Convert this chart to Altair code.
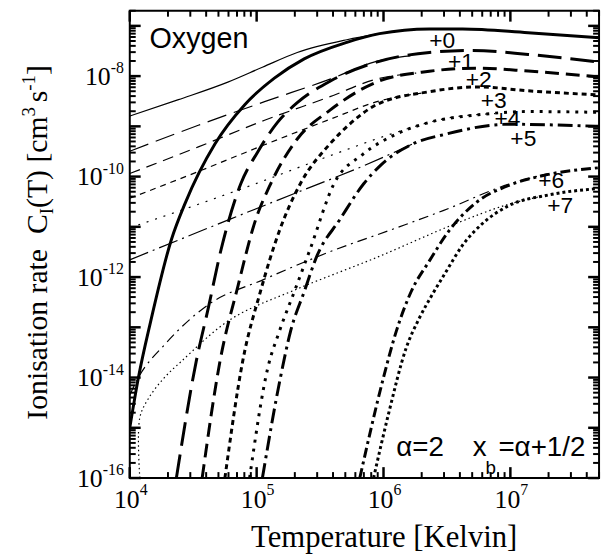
import math
import altair as alt
import pandas as pd

W, H = 474, 472

# ---------------- data ----------------
ions = ["+0", "+1", "+2", "+3", "+4", "+5", "+6", "+7"]

# thick curves (Maxwellian)
T_m0 = [1.0e4, 1.17e4, 1.46e4, 2.13e4, 2.74e4, 4.7e4, 8.06e4, 1.38e5, 2.37e5, 5.14e5, 9.3e5, 2.3e6, 4.2e6, 1.38e7, 5.0e7]
C_m0 = [1.0e-15, 1.0e-14, 1.3e-13, 5.6e-12, 3.0e-11, 4.5e-10, 2.7e-9, 9.1e-9, 2.2e-8, 4.7e-8, 7.0e-8, 8.7e-8, 8.7e-8, 7.3e-8, 5.8e-8]

T_m1 = [2.33e4, 3.34e4, 4.14e4, 5.24e4, 7.5e4, 1.02e5, 1.46e5, 2.09e5, 3.79e5, 8.8e5, 2.3e6, 5.0e6, 1.38e7, 5.0e7]
C_m1 = [1.0e-16, 2.1e-14, 2.3e-13, 3.5e-12, 7.2e-11, 3.1e-10, 1.2e-9, 2.95e-9, 7.9e-9, 1.9e-8, 2.95e-8, 3.24e-8, 2.7e-8, 1.9e-8]

T_m2 = [3.72e4, 5.14e4, 7.1e4, 9.64e4, 1.29e5, 2.09e5, 3.79e5, 8.8e5, 2.3e6, 5.33e6, 1.38e7, 5.0e7]
C_m2 = [1.0e-16, 2.1e-14, 6.4e-13, 1.2e-11, 7.2e-11, 5.6e-10, 2.1e-9, 7.6e-9, 1.25e-8, 1.44e-8, 1.26e-8, 9.6e-9]

T_m3 = [5.62e4, 7.76e4, 1.07e5, 1.51e5, 2.21e5, 3.79e5, 5.4e5, 8.8e5, 2.3e6, 5.6e6, 1.38e7, 5.0e7]
C_m3 = [1.0e-16, 2.1e-14, 5.1e-13, 8.3e-12, 7.2e-11, 4.5e-10, 1.1e-9, 2.7e-9, 4.9e-9, 6.1e-9, 5.1e-9, 4.2e-9]

T_m4 = [8.8e4, 1.22e5, 1.51e5, 1.98e5, 2.63e5, 4.07e5, 6.9e5, 1.26e6, 2.3e6, 5.6e6, 1.38e7, 5.0e7]
C_m4 = [1.0e-16, 1.5e-14, 8.3e-14, 5.1e-13, 3.5e-12, 7.2e-11, 2.8e-10, 7.0e-10, 1.2e-9, 1.7e-9, 1.97e-9, 1.9e-9]

T_m5 = [1.11e5, 1.54e5, 1.85e5, 2.37e5, 3.0e5, 4.53e5, 6.98e5, 9.3e5, 1.71e6, 3.1e6, 9.6e6, 5.0e7]
C_m5 = [1.0e-16, 1.0e-14, 8.3e-14, 5.1e-13, 2.7e-12, 1.4e-11, 7.2e-11, 1.6e-10, 4.5e-10, 7.0e-10, 1.1e-9, 1.0e-9]

T_m6 = [6.5e5, 1.0e6, 1.26e6, 1.65e6, 2.3e6, 3.28e6, 5.33e6, 9.6e6, 1.78e7, 5.0e7]
C_m6 = [1.0e-16, 1.0e-14, 8.3e-14, 5.1e-13, 2.1e-12, 8.3e-12, 3.0e-11, 6.6e-11, 1.04e-10, 1.5e-10]

T_m7 = [8.35e5, 1.09e6, 1.51e6, 1.91e6, 2.45e6, 3.1e6, 4.2e6, 6.0e6, 9.6e6, 1.99e7, 5.0e7]
C_m7 = [1.0e-16, 1.8e-15, 3.9e-14, 1.5e-13, 4.7e-13, 1.26e-12, 4.3e-12, 1.15e-11, 2.6e-11, 4.3e-11, 5.8e-11]

# thin curves (non-Maxwellian)
T_k0 = [1.0e4, 2.42e4, 5.93e4, 1.11e5, 2.09e5, 5.14e5, 9.3e5]
C_k0 = [1.6e-9, 3.4e-9, 7.6e-9, 1.5e-8, 2.95e-8, 5.3e-8, 7.0e-8]

T_k1 = [1.0e4, 3.47e4, 1.155e5, 3.79e5, 8.8e5, 1.81e6]
C_k1 = [3.2e-10, 1.05e-9, 3.1e-9, 8.7e-9, 1.97e-8, 2.6e-8]

T_k2 = [1.0e4, 3.47e4, 1.155e5, 3.79e5, 8.8e5, 1.81e6]
C_k2 = [1.15e-10, 3.9e-10, 1.32e-9, 3.9e-9, 8.7e-9, 1.15e-8]

T_k3 = [1.0e4, 3.47e4, 1.155e5, 3.79e5, 9.3e5, 2.17e6]
C_k3 = [3.7e-11, 1.26e-10, 4.3e-10, 1.38e-9, 3.2e-9, 4.7e-9]

T_k4 = [1.0e4, 8.5e4, 3.79e5, 1.26e6, 3.1e6, 7.6e6]
C_k4 = [9.5e-12, 6.3e-11, 2.6e-10, 7.6e-10, 1.44e-9, 1.8e-9]

T_k5 = [1.0e4, 6.26e4, 2.09e5, 6.98e5, 1.71e6]
C_k5 = [2.2e-12, 1.44e-11, 4.85e-11, 1.64e-10, 4.5e-10]

T_k6 = [1.0e4, 1.17e4, 1.91e4, 4.14e4, 1.155e5, 3.79e5, 1.26e6, 2.95e6, 9.6e6, 1.99e7]
C_k6 = [4.5e-15, 1.0e-14, 4.7e-14, 2.8e-13, 9.1e-13, 3.2e-12, 9.5e-12, 2.1e-11, 7.0e-11, 1.15e-10]

T_k7 = [1.2e4, 1.2e4, 1.41e4, 1.85e4, 2.55e4, 6.26e4, 2.09e5, 8.8e5, 3.52e6, 9.6e6, 1.99e7]
C_k7 = [1.0e-16, 1.6e-15, 3.9e-15, 9.6e-15, 2.1e-14, 1.45e-13, 5.8e-13, 2.45e-12, 1.1e-11, 2.8e-11, 4.3e-11]

# curve labels (left edge / baseline)
label_T = [2.29e6, 3.22e6, 4.45e6, 5.83e6, 7.5e6, 1.0e7, 1.66e7, 1.95e7]
label_C = [3.55e-8, 1.37e-8, 6.1e-9, 2.36e-9, 1.0e-9, 4.1e-10, 5.8e-11, 1.9e-11]

# axis ticks
xtick_vals = [1e4, 1e5, 1e6, 1e7]
xtick_exp = ["4", "5", "6", "7"]
ytick_vals = [1e-16, 1e-14, 1e-12, 1e-10, 1e-8]
ytick_exp = ["-16", "-14", "-12", "-10", "-8"]

# ---------------- chart ----------------
XMIN, XMAX, YMIN, YMAX = 1e4, 5e7, 1e-16, 2e-7
xs = alt.Scale(type="log", domain=[XMIN, XMAX], nice=False)
ys = alt.Scale(type="log", domain=[YMIN, YMAX], nice=False)
X = lambda f="T": alt.X(f + ":Q", scale=xs, axis=None)
Y = lambda f="C": alt.Y(f + ":Q", scale=ys, axis=None)

thick = [(T_m0, C_m0), (T_m1, C_m1), (T_m2, C_m2), (T_m3, C_m3),
         (T_m4, C_m4), (T_m5, C_m5), (T_m6, C_m6), (T_m7, C_m7)]
thin = [(T_k0, C_k0), (T_k1, C_k1), (T_k2, C_k2), (T_k3, C_k3),
        (T_k4, C_k4), (T_k5, C_k5), (T_k6, C_k6), (T_k7, C_k7)]
thick_dash = [None, [24, 9], [14, 7], [5, 4], [3, 6], [15, 5, 3, 5], [10, 4, 3, 4], [3, 3]]
thin_dash = [None, [20, 8], [11, 7], [6, 5], [2, 7], [20, 5, 2, 5], [10, 5, 2, 5], [1.5, 3]]


def curve(T, C, width, dash, interp="monotone"):
    df = pd.DataFrame({"T": T, "C": C, "i": list(range(len(T)))})
    kw = dict(strokeWidth=width, color="black", clip=True, interpolate=interp)
    if dash:
        kw["strokeDash"] = dash
    return alt.Chart(df).mark_line(**kw).encode(x=X(), y=Y(), order="i:Q")


layers = []
for k, (T, C) in enumerate(thin):
    layers.append(curve(T, C, 1.2, thin_dash[k], "catmull-rom" if k == 7 else "monotone"))
for k, (T, C) in enumerate(thick):
    layers.append(curve(T, C, 3, thick_dash[k]))

# inward ticks on all four sides, each a short two-point line
maj_x = [float(v) for v in xtick_vals]
min_x = [float(m * 10 ** e) for e in range(4, 8) for m in range(2, 10) if m * 10 ** e <= XMAX]
maj_y = [10.0 ** e for e in range(-16, -6)]
min_y = [m * 10.0 ** e for e in range(-16, -6) for m in range(2, 10) if m * 10.0 ** e <= YMAX]
PPD_Y = H / math.log10(YMAX / YMIN)
PPD_X = W / math.log10(XMAX / XMIN)


def tick_rows(xv, yv, ln):
    rows = []
    fy = 10 ** (ln / PPD_Y)
    fx = 10 ** (ln / PPD_X)
    n = 0
    for v in xv:
        rows += [{"T": v, "C": YMIN, "id": n}, {"T": v, "C": YMIN * fy, "id": n}]
        rows += [{"T": v, "C": YMAX, "id": n + 1}, {"T": v, "C": YMAX / fy, "id": n + 1}]
        n += 2
    for v in yv:
        rows += [{"T": XMIN, "C": v, "id": n}, {"T": XMIN * fx, "C": v, "id": n}]
        rows += [{"T": XMAX, "C": v, "id": n + 1}, {"T": XMAX / fx, "C": v, "id": n + 1}]
        n += 2
    return pd.DataFrame(rows)


layers.append(alt.Chart(tick_rows(maj_x, maj_y, 11)).mark_line(color="black", strokeWidth=2.5).encode(
    x=X(), y=Y(), detail="id:N"))
layers.append(alt.Chart(tick_rows(min_x, min_y, 6)).mark_line(color="black", strokeWidth=2).encode(
    x=X(), y=Y(), detail="id:N"))

# tick labels
xt = pd.DataFrame({"T": xtick_vals, "e": xtick_exp})
layers.append(alt.Chart(xt).mark_text(align="right", baseline="alphabetic", font="Liberation Serif",
                                      fontSize=26, dx=10).encode(x=X(), y=alt.value(H + 30), text=alt.value("10")))
layers.append(alt.Chart(xt).mark_text(align="left", baseline="alphabetic", font="Liberation Serif",
                                      fontSize=16, dx=10).encode(x=X(), y=alt.value(H + 17), text="e:N"))

yt = pd.DataFrame({"C": ytick_vals, "e": ytick_exp})
layers.append(alt.Chart(yt).transform_calculate(
    lx="-6 - (0.333 + 0.5*(length(datum.e)-1))*16").mark_text(
    align="right", baseline="alphabetic", font="Liberation Serif", fontSize=26, dy=9).encode(
    x=alt.X("lx:Q", scale=None), y=Y(), text=alt.value("10")))
layers.append(alt.Chart(yt).mark_text(align="right", baseline="alphabetic", font="Liberation Serif",
                                      fontSize=16, dx=-6, dy=-3).encode(x=alt.value(0), y=Y(), text="e:N"))

# curve labels
lab = pd.DataFrame({"T": label_T, "C": label_C, "t": ions})
layers.append(alt.Chart(lab).mark_text(align="left", baseline="alphabetic", font="Liberation Sans",
                                       fontSize=23).encode(x=X(), y=Y(), text="t:N"))

# annotations
ann = pd.DataFrame({"T": [1.43e4, 1.26e6, 5.05e6, 8.05e6], "C": [3.55e-8, 2.7e-16, 2.7e-16, 2.7e-16],
                    "t": ["Oxygen", "α=2", "x", "=α+1/2"], "s": [29, 28, 28, 28]})
layers.append(alt.Chart(ann).mark_text(align="left", baseline="alphabetic", font="Liberation Sans").encode(
    x=X(), y=Y(), text="t:N", size=alt.Size("s:Q", scale=None, legend=None)))
sub = pd.DataFrame({"T": [6.38e6], "C": [1.2e-16], "t": ["b"]})
layers.append(alt.Chart(sub).mark_text(align="left", baseline="alphabetic", font="Liberation Sans",
                                       fontSize=19).encode(x=X(), y=Y(), text="t:N"))

# axis titles
layers.append(alt.Chart(pd.DataFrame({"t": ["Temperature [Kelvin]"]})).mark_text(
    align="center", baseline="alphabetic", font="Liberation Serif", fontSize=31).encode(
    x=alt.value(388 - 131), y=alt.value(550 - 8), text="t:N"))

TWD = {"I": .333, "o": .5, "n": .5, "i": .278, "s": .389, "a": .444, "t": .278, "r": .333, "e": .444,
       " ": .25, "C": .667, "(": .333, "T": .611, ")": .333, "[": .333, "c": .444, "m": .778, "]": .333,
       "3": .5, "-": .333, "1": .5}


def tw(s, size):
    return sum(TWD.get(ch, .5) for ch in s) * size


FS, FSS = 30, 19
pieces = [("Ionisation rate", FS, 0, "Ionisation rate  "), ("C", FS, 0, "C"), ("I", FSS, 6, "I"),
          ("(T)", FS, 0, "(T) "), ("[cm", FS, 0, "[cm"), ("3", FSS, -12, "3 "), ("s", FS, 0, "s"),
          ("-1", FSS, -12, "-1"), ("]", FS, 0, "]")]
total = sum(tw(adv, size) for _, size, _, adv in pieces)
pos = 242 - 8 + total / 2
rows = []
for text, size, shift, adv in pieces:
    rows.append({"t": text, "s": size, "x": 47 - 131 + shift, "y": pos})
    pos -= tw(adv, size)
ytitle = pd.DataFrame(rows)
layers.append(alt.Chart(ytitle).mark_text(align="left", baseline="alphabetic", angle=270,
                                          font="Liberation Serif").encode(
    x=alt.X("x:Q", scale=None), y=alt.Y("y:Q", scale=None), text="t:N",
    size=alt.Size("s:Q", scale=None, legend=None)))

chart = alt.layer(*layers).properties(
    width=W, height=H,
    autosize=alt.AutoSizeParams(type="none"),
    padding={"left": 123, "top": 0, "right": 5, "bottom": 78},
    background="white",
).configure_view(stroke="black", strokeWidth=2)

chart.save("out.html", embed_options={"renderer": "svg", "actions": False})
